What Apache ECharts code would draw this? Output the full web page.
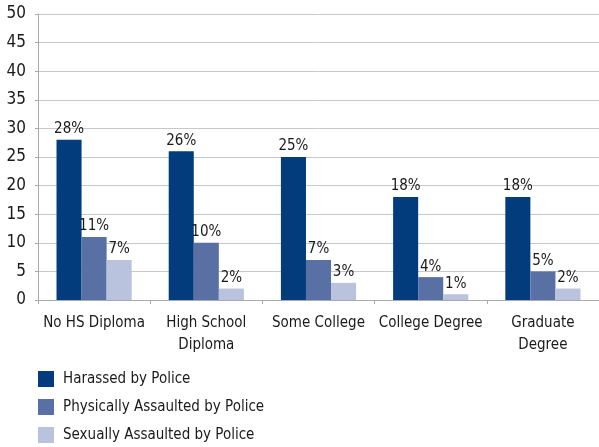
<!DOCTYPE html>
<html><head><meta charset="utf-8">
<script src="https://cdn.jsdelivr.net/npm/echarts@6/dist/echarts.min.js"></script>
<style>html,body{margin:0;padding:0;background:#fff}#c{width:599px;height:447px}</style>
</head><body><div id="c"></div>
<script>
var categories = ['No HS Diploma', 'High School\nDiploma', 'Some College', 'College Degree', 'Graduate\nDegree'];
var harassed = [28, 26, 25, 18, 18];
var physical = [11, 10, 7, 4, 5];
var sexual = [7, 2, 3, 1, 2];
var seriesNames = ['Harassed by Police', 'Physically Assaulted by Police', 'Sexually Assaulted by Police'];
var colors = ['#023c7c', '#5870a4', '#b9c3dd'];
var font = '"DejaVu Sans Condensed", "Liberation Sans Narrow", sans-serif';
var chart = echarts.init(document.getElementById('c'));
function mk(name, data, color) {
  return {
    name: name, type: 'bar', data: data, barGap: '0%', barCategoryGap: '33%',
    itemStyle: { color: color },
    label: { show: true, position: 'top', distance: 3, formatter: '{c}%', color: '#1a1a1a', fontSize: 15, fontFamily: font }
  };
}
chart.setOption({
  animation: false,
  textStyle: { fontFamily: font },
  grid: { left: 38, top: 14, right: -1, bottom: 147, containLabel: false },
  legend: {
    orient: 'vertical', left: 38, top: 371, padding: 0, itemWidth: 16, itemHeight: 16, itemGap: 12,
    icon: 'rect', data: seriesNames,
    textStyle: { fontSize: 15, color: '#1a1a1a', fontFamily: font, padding: [0, 0, 0, 4] }
  },
  xAxis: {
    type: 'category', data: categories,
    axisLine: { lineStyle: { color: '#aaa' } },
    axisTick: { show: true, length: 4, lineStyle: { color: '#aaa' } },
    axisLabel: { color: '#1a1a1a', fontSize: 15, margin: 12, lineHeight: 22, fontFamily: font, interval: 0 }
  },
  yAxis: {
    type: 'value', min: 0, max: 50, interval: 5,
    axisLine: { show: true, lineStyle: { color: '#aaa' } },
    axisTick: { show: true, length: 3, lineStyle: { color: '#aaa' } },
    splitLine: { lineStyle: { color: '#c8c8c8' } },
    axisLabel: { color: '#1a1a1a', fontSize: 17, margin: 12, fontFamily: font }
  },
  series: [mk(seriesNames[0], harassed, colors[0]), mk(seriesNames[1], physical, colors[1]), mk(seriesNames[2], sexual, colors[2])]
});
</script></body></html>
